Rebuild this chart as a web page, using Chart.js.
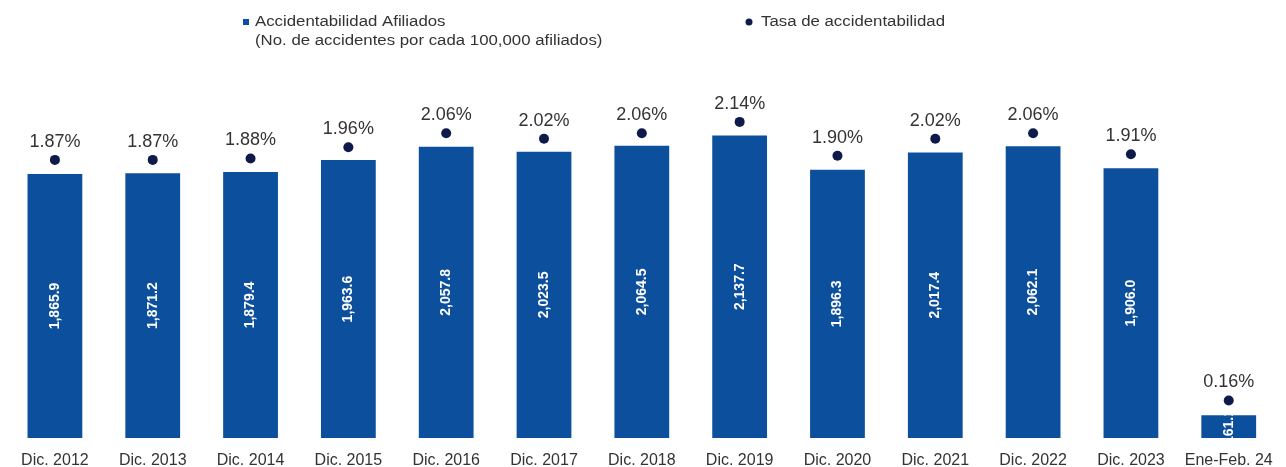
<!DOCTYPE html>
<html>
<head>
<meta charset="utf-8">
<script src="https://cdn.jsdelivr.net/npm/chart.js@4.4.1/dist/chart.umd.min.js"></script>
<style>
  html, body { margin: 0; padding: 0; background: #ffffff; }
  #wrap { width: 1286px; height: 467px; position: relative; }
</style>
</head>
<body>
<div id="wrap"><canvas id="c" width="1286" height="467"></canvas></div>
<script>
const categories = ['Dic. 2012','Dic. 2013','Dic. 2014','Dic. 2015','Dic. 2016','Dic. 2017','Dic. 2018','Dic. 2019','Dic. 2020','Dic. 2021','Dic. 2022','Dic. 2023','Ene-Feb. 24'];
const accidentabilidad = [1865.9, 1871.2, 1879.4, 1963.6, 2057.8, 2023.5, 2064.5, 2137.7, 1896.3, 2017.4, 2062.1, 1906.0, 161.1];
const tasa = [1.87, 1.87, 1.88, 1.96, 2.06, 2.02, 2.06, 2.14, 1.90, 2.02, 2.06, 1.91, 0.16];
const legendBar = ['Accidentabilidad Afiliados', '(No. de accidentes por cada 100,000 afiliados)'];
const legendDot = 'Tasa de accidentabilidad';

const BAR_COLOR = '#0c4f9c';
const DOT_COLOR = '#0d1a4a';
const TEXT_COLOR = '#333333';
const FONT = '"Liberation Sans", Arial, sans-serif';

function fmtNum(v) {
  return v.toLocaleString('en-US', { minimumFractionDigits: 1, maximumFractionDigits: 1 });
}

function stretchedText(ctx, text, x, y, sx) {
  ctx.save();
  ctx.translate(x, y);
  ctx.scale(sx, 1);
  ctx.fillText(text, 0, 0);
  ctx.restore();
}

const labelsPlugin = {
  id: 'labelsPlugin',
  afterDatasetsDraw(chart) {
    const ctx = chart.ctx;
    const barMeta = chart.getDatasetMeta(0);
    const dotMeta = chart.getDatasetMeta(1);
    barMeta.data.forEach((bar, i) => {
      const p = bar.getProps(['x', 'y', 'base', 'width'], true);
      const left = p.x - p.width / 2;
      const top = Math.min(p.y, p.base);
      const h = Math.abs(p.base - p.y);
      ctx.save();
      ctx.beginPath();
      ctx.rect(left, top, p.width, h);
      ctx.clip();
      ctx.translate(p.x, top + h / 2);
      ctx.rotate(-Math.PI / 2);
      ctx.fillStyle = '#ffffff';
      ctx.font = 'bold 14px ' + FONT;
      ctx.textAlign = 'center';
      ctx.textBaseline = 'middle';
      ctx.fillText(fmtNum(accidentabilidad[i]), 0, 0);
      ctx.restore();
    });
    dotMeta.data.forEach((pt, i) => {
      ctx.save();
      ctx.fillStyle = TEXT_COLOR;
      ctx.font = '18px ' + FONT;
      ctx.textAlign = 'center';
      ctx.textBaseline = 'middle';
      ctx.fillText(tasa[i].toFixed(2) + '%', pt.x, pt.y - 18);
      ctx.restore();
    });
  },
  afterDraw(chart) {
    const ctx = chart.ctx;
    ctx.save();
    ctx.font = '14px ' + FONT;
    ctx.textBaseline = 'middle';
    ctx.textAlign = 'left';
    ctx.fillStyle = BAR_COLOR;
    ctx.fillRect(243, 19, 6, 6);
    ctx.fillStyle = TEXT_COLOR;
    stretchedText(ctx, legendBar[0], 255, 22, 1.2);
    stretchedText(ctx, legendBar[1], 255, 41, 1.2);
    ctx.fillStyle = DOT_COLOR;
    ctx.beginPath();
    ctx.arc(749, 22, 3.5, 0, Math.PI * 2);
    ctx.fill();
    ctx.fillStyle = TEXT_COLOR;
    stretchedText(ctx, legendDot, 761, 22, 1.2);
    ctx.restore();
  }
};

new Chart(document.getElementById('c'), {
  data: {
    labels: categories,
    datasets: [
      {
        type: 'bar',
        data: accidentabilidad,
        backgroundColor: BAR_COLOR,
        yAxisID: 'y',
        categoryPercentage: 1,
        barPercentage: 0.56,
        order: 2
      },
      {
        type: 'line',
        data: tasa,
        showLine: false,
        pointRadius: 5,
        pointHoverRadius: 5,
        pointBackgroundColor: DOT_COLOR,
        pointBorderColor: DOT_COLOR,
        pointBorderWidth: 0,
        yAxisID: 'y2',
        order: 1
      }
    ]
  },
  options: {
    responsive: false,
    animation: false,
    devicePixelRatio: 1,
    layout: { padding: { top: 60, left: 6, right: 6, bottom: 0 } },
    plugins: { legend: { display: false }, tooltip: { enabled: false } },
    scales: {
      x: {
        grid: { display: false, drawTicks: false },
        border: { display: false },
        ticks: { color: TEXT_COLOR, font: { family: FONT, size: 16 }, padding: 13, maxRotation: 0, autoSkip: false },
        afterFit(s) { s.height = 29; }
      },
      y: { display: false, min: 0, max: 2671 },
      y2: { display: false, min: -0.1066, max: 2.58, position: 'right' }
    }
  },
  plugins: [labelsPlugin]
});
</script>
</body>
</html>
